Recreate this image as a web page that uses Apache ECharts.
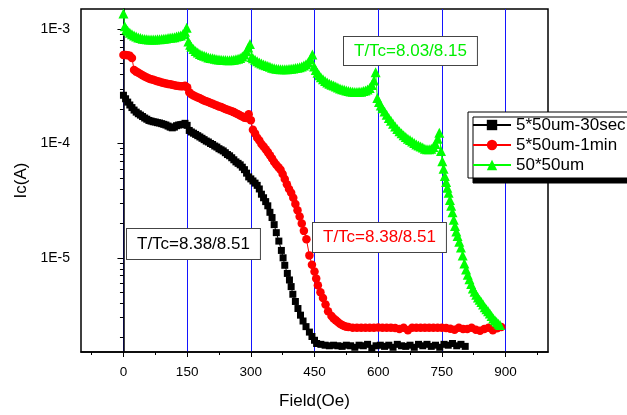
<!DOCTYPE html>
<html>
<head>
<meta charset="utf-8">
<script src="https://cdn.jsdelivr.net/npm/echarts@6/dist/echarts.min.js"></script>
<style>
  html, body { margin: 0; padding: 0; background: #fff; }
  #chart { width: 627px; height: 415px; }
</style>
</head>
<body>
<div id="chart"></div>
<script>
// Axis ticks
const fieldTicks = [0, 150, 300, 450, 600, 750, 900];
const fieldMinorTicks = [-75, 75, 225, 375, 525, 675, 825, 975];
const currentTicks = [1e-5, 1e-4, 1e-3];
const currentMinorTicks = [
  2e-6, 3e-6, 4e-6, 5e-6, 6e-6, 7e-6, 8e-6, 9e-6,
  2e-5, 3e-5, 4e-5, 5e-5, 6e-5, 7e-5, 8e-5, 9e-5,
  2e-4, 3e-4, 4e-4, 5e-4, 6e-4, 7e-4, 8e-4, 9e-4
];
const seriesNames = ['5*50um-30sec', '5*50um-1min', '50*50um'];

// Critical current Ic (A) versus field (Oe)
const ic30sec = [
  [0, 2.64e-4], [5, 2.46e-4], [10, 2.3e-4], [15, 2.17e-4], [20, 2.06e-4], [25, 1.96e-4],
  [30, 1.88e-4], [35, 1.82e-4], [40, 1.77e-4], [45, 1.72e-4], [50, 1.67e-4], [55, 1.63e-4],
  [60, 1.59e-4], [65, 1.57e-4], [70, 1.55e-4], [75, 1.54e-4], [80, 1.52e-4], [85, 1.51e-4],
  [90, 1.49e-4], [95, 1.47e-4], [100, 1.45e-4], [105, 1.42e-4], [110, 1.39e-4], [115, 1.37e-4],
  [120, 1.39e-4], [125, 1.43e-4], [130, 1.45e-4], [135, 1.46e-4], [140, 1.47e-4], [145, 1.5e-4],
  [150, 1.44e-4], [155, 1.3e-4], [160, 1.26e-4], [165, 1.23e-4], [170, 1.2e-4], [175, 1.17e-4],
  [180, 1.14e-4], [185, 1.11e-4], [190, 1.08e-4], [195, 1.05e-4], [200, 1.03e-4], [205, 1.0e-4],
  [210, 9.8e-5], [215, 9.5e-5], [220, 9.3e-5], [225, 9.0e-5], [230, 8.8e-5], [235, 8.6e-5],
  [240, 8.3e-5], [245, 8.0e-5], [250, 7.8e-5], [255, 7.5e-5], [260, 7.2e-5], [265, 6.9e-5],
  [270, 6.7e-5], [275, 6.5e-5], [280, 6.2e-5], [285, 5.9e-5], [290, 5.5e-5], [295, 5.1e-5],
  [300, 4.9e-5], [305, 4.7e-5], [310, 4.5e-5], [315, 4.3e-5], [320, 4.0e-5], [325, 3.6e-5],
  [330, 3.35e-5], [335, 3.1e-5], [340, 2.85e-5], [345, 2.5e-5], [350, 2.25e-5], [355, 1.95e-5],
  [360, 1.66e-5], [366, 1.4e-5], [372, 1.16e-5], [376, 1.0e-5], [380, 8.6e-6], [386, 7.3e-6],
  [391, 6.4e-6], [395, 5.6e-6], [399, 4.8e-6], [405, 4.15e-6], [411, 3.6e-6], [417, 3.15e-6],
  [423, 2.8e-6], [430, 2.5e-6], [438, 2.24e-6], [444, 2.05e-6], [450, 1.9e-6], [455, 1.78e-6],
  [465, 1.75e-6], [475, 1.72e-6], [485, 1.7e-6], [495, 1.72e-6], [505, 1.7e-6], [515, 1.68e-6],
  [525, 1.72e-6], [535, 1.7e-6], [545, 1.65e-6], [555, 1.72e-6], [565, 1.7e-6], [575, 1.75e-6],
  [585, 1.62e-6], [595, 1.7e-6], [605, 1.72e-6], [615, 1.68e-6], [625, 1.72e-6], [635, 1.65e-6],
  [645, 1.75e-6], [655, 1.7e-6], [665, 1.68e-6], [675, 1.72e-6], [685, 1.65e-6], [695, 1.75e-6],
  [705, 1.7e-6], [715, 1.75e-6], [725, 1.68e-6], [735, 1.72e-6], [745, 1.65e-6], [755, 1.75e-6],
  [765, 1.72e-6], [775, 1.78e-6], [785, 1.7e-6], [795, 1.75e-6], [805, 1.68e-6]
];

const ic1min = [
  [0, 5.95e-4], [5, 5.95e-4], [10, 5.9e-4], [15, 5.85e-4], [20, 5.6e-4], [25, 4.4e-4],
  [30, 4.25e-4], [35, 4.15e-4], [40, 4.05e-4], [45, 3.95e-4], [50, 3.86e-4], [55, 3.78e-4],
  [60, 3.7e-4], [65, 3.65e-4], [70, 3.6e-4], [75, 3.55e-4], [80, 3.5e-4], [85, 3.46e-4],
  [90, 3.42e-4], [95, 3.38e-4], [100, 3.35e-4], [105, 3.32e-4], [110, 3.29e-4], [115, 3.26e-4],
  [120, 3.23e-4], [125, 3.2e-4], [130, 3.18e-4], [135, 3.16e-4], [140, 3.16e-4], [145, 3.2e-4],
  [150, 3.1e-4], [155, 2.8e-4], [160, 2.7e-4], [165, 2.63e-4], [170, 2.58e-4], [175, 2.53e-4],
  [180, 2.48e-4], [185, 2.43e-4], [190, 2.38e-4], [195, 2.34e-4], [200, 2.3e-4], [205, 2.26e-4],
  [210, 2.22e-4], [215, 2.18e-4], [220, 2.15e-4], [225, 2.11e-4], [230, 2.08e-4], [235, 2.04e-4],
  [240, 2.0e-4], [245, 1.97e-4], [250, 1.94e-4], [255, 1.91e-4], [260, 1.88e-4], [265, 1.84e-4],
  [270, 1.8e-4], [275, 1.76e-4], [280, 1.72e-4], [285, 1.68e-4], [290, 1.67e-4], [295, 1.8e-4],
  [300, 1.6e-4], [305, 1.32e-4], [310, 1.22e-4], [315, 1.12e-4], [320, 1.06e-4], [325, 9.9e-5],
  [330, 9.4e-5], [335, 8.9e-5], [340, 8.4e-5], [345, 7.9e-5], [350, 7.4e-5], [355, 6.9e-5],
  [360, 6.5e-5], [365, 6.2e-5], [370, 5.9e-5], [375, 5.4e-5], [380, 4.9e-5], [385, 4.4e-5],
  [390, 4.0e-5], [395, 3.7e-5], [400, 3.35e-5], [405, 2.95e-5], [410, 2.6e-5], [415, 2.3e-5],
  [420, 2.0e-5], [425, 1.72e-5], [431, 1.45e-5], [438, 1.05e-5], [444, 8.7e-6], [450, 7.6e-6],
  [454, 6.6e-6], [458, 5.75e-6], [464, 5.0e-6], [470, 4.45e-6], [476, 3.9e-6], [482, 3.4e-6],
  [490, 3.1e-6], [495, 2.95e-6], [500, 2.85e-6], [505, 2.75e-6], [510, 2.65e-6], [515, 2.58e-6],
  [520, 2.53e-6], [525, 2.5e-6], [530, 2.48e-6], [540, 2.45e-6], [550, 2.45e-6], [560, 2.44e-6],
  [570, 2.45e-6], [580, 2.45e-6], [590, 2.44e-6], [600, 2.46e-6], [610, 2.45e-6], [620, 2.44e-6],
  [630, 2.45e-6], [640, 2.43e-6], [650, 2.38e-6], [660, 2.45e-6], [670, 2.32e-6], [680, 2.45e-6],
  [690, 2.45e-6], [700, 2.44e-6], [710, 2.45e-6], [720, 2.45e-6], [730, 2.44e-6], [740, 2.45e-6],
  [750, 2.45e-6], [760, 2.43e-6], [770, 2.4e-6], [780, 2.35e-6], [790, 2.45e-6], [800, 2.38e-6],
  [810, 2.38e-6], [820, 2.45e-6], [830, 2.35e-6], [840, 2.3e-6], [850, 2.38e-6], [860, 2.45e-6],
  [870, 2.32e-6], [880, 2.42e-6], [890, 2.48e-6]
];

const ic50x50 = [
  [0, 1.37e-3], [3, 1.06e-3], [7, 1.0e-3], [10, 9.7e-4], [15, 9.3e-4], [20, 9.0e-4],
  [25, 8.8e-4], [30, 8.6e-4], [35, 8.45e-4], [40, 8.35e-4], [45, 8.25e-4], [50, 8.2e-4],
  [55, 8.15e-4], [60, 8.1e-4], [65, 8.1e-4], [70, 8.1e-4], [75, 8.1e-4], [80, 8.15e-4],
  [85, 8.15e-4], [90, 8.2e-4], [95, 8.25e-4], [100, 8.3e-4], [105, 8.35e-4], [110, 8.4e-4],
  [115, 8.45e-4], [120, 8.5e-4], [125, 8.6e-4], [130, 8.7e-4], [135, 8.8e-4], [140, 9.0e-4],
  [145, 9.5e-4], [149, 1.03e-3], [153, 7.8e-4], [157, 7.3e-4], [160, 7.0e-4], [165, 6.7e-4],
  [170, 6.45e-4], [175, 6.25e-4], [180, 6.05e-4], [185, 5.95e-4], [190, 5.85e-4], [195, 5.75e-4],
  [200, 5.65e-4], [205, 5.6e-4], [210, 5.55e-4], [215, 5.5e-4], [220, 5.45e-4], [225, 5.42e-4],
  [230, 5.4e-4], [235, 5.38e-4], [240, 5.36e-4], [245, 5.35e-4], [250, 5.35e-4], [255, 5.37e-4],
  [260, 5.4e-4], [265, 5.45e-4], [270, 5.5e-4], [275, 5.6e-4], [280, 5.75e-4], [285, 6.0e-4],
  [290, 6.4e-4], [294, 6.9e-4], [298, 7.4e-4], [302, 5.7e-4], [305, 5.55e-4], [310, 5.4e-4],
  [315, 5.25e-4], [320, 5.1e-4], [325, 5.0e-4], [330, 4.9e-4], [335, 4.82e-4], [340, 4.75e-4],
  [345, 4.68e-4], [350, 4.6e-4], [355, 4.55e-4], [360, 4.5e-4], [365, 4.48e-4], [370, 4.46e-4],
  [375, 4.45e-4], [380, 4.45e-4], [385, 4.46e-4], [390, 4.48e-4], [395, 4.5e-4], [400, 4.53e-4],
  [405, 4.56e-4], [410, 4.6e-4], [415, 4.65e-4], [420, 4.72e-4], [425, 4.8e-4], [430, 4.92e-4],
  [435, 5.1e-4], [440, 5.45e-4], [445, 6.0e-4], [449, 4.7e-4], [453, 4.4e-4], [457, 4.15e-4],
  [461, 3.95e-4], [465, 3.8e-4], [470, 3.65e-4], [475, 3.52e-4], [480, 3.42e-4], [485, 3.33e-4],
  [490, 3.27e-4], [495, 3.21e-4], [500, 3.15e-4], [505, 3.09e-4], [510, 3.03e-4], [515, 2.98e-4],
  [520, 2.95e-4], [525, 2.91e-4], [530, 2.88e-4], [535, 2.85e-4], [540, 2.83e-4], [545, 2.82e-4],
  [550, 2.82e-4], [555, 2.83e-4], [560, 2.84e-4], [565, 2.87e-4], [570, 2.9e-4], [575, 2.96e-4],
  [580, 3.05e-4], [585, 3.25e-4], [590, 3.55e-4], [594, 4.2e-4], [598, 2.5e-4], [602, 2.3e-4],
  [606, 2.15e-4], [610, 2.03e-4], [615, 1.9e-4], [620, 1.78e-4], [625, 1.67e-4], [630, 1.58e-4],
  [635, 1.49e-4], [640, 1.41e-4], [645, 1.34e-4], [650, 1.28e-4], [655, 1.23e-4], [660, 1.18e-4],
  [665, 1.14e-4], [670, 1.1e-4], [675, 1.07e-4], [680, 1.04e-4], [685, 1.01e-4], [690, 9.8e-5],
  [695, 9.6e-5], [700, 9.4e-5], [705, 9.2e-5], [710, 9.0e-5], [715, 8.9e-5], [720, 8.9e-5],
  [725, 9.0e-5], [730, 9.3e-5], [735, 9.9e-5], [740, 1.1e-4], [744, 1.24e-4], [748, 8.6e-5],
  [751, 7.0e-5], [754, 6.0e-5], [757, 5.2e-5], [760, 4.6e-5], [763, 4.1e-5], [766, 3.7e-5],
  [769, 3.2e-5], [772, 2.85e-5], [775, 2.5e-5], [778, 2.15e-5], [781, 1.9e-5], [784, 1.7e-5],
  [787, 1.55e-5], [791, 1.38e-5], [795, 1.23e-5], [799, 1.05e-5], [803, 8.9e-6], [807, 7.9e-6],
  [811, 7.1e-6], [815, 6.5e-6], [819, 5.9e-6], [823, 5.4e-6], [827, 5.05e-6], [831, 4.75e-6],
  [835, 4.5e-6], [839, 4.3e-6], [843, 4.1e-6], [847, 3.9e-6], [851, 3.7e-6], [855, 3.55e-6],
  [859, 3.4e-6], [863, 3.25e-6], [867, 3.1e-6], [871, 2.95e-6], [875, 2.85e-6], [879, 2.75e-6],
  [883, 2.65e-6], [887, 2.58e-6]
];

const FONT = '"Liberation Sans", Arial, sans-serif';
const GRID_BLUE = '#1414ff';
const chart = echarts.init(document.getElementById('chart'), null, { renderer: 'canvas' });

const xBase = { type: 'value', min: -100, max: 1000, position: 'bottom' };
const yBase = {
  type: 'log', logBase: 10, min: 1.5e-6, max: 1.5e-3, position: 'left',
  splitLine: { show: false }, minorTick: { show: false }
};

chart.setOption({
  animation: false,
  backgroundColor: '#fff',
  grid: {
    left: 81, right: 79, top: 9, bottom: 57,
    show: true, borderColor: '#000', borderWidth: 1.5, backgroundColor: 'transparent'
  },
  xAxis: [
    Object.assign({}, xBase, {
      name: 'Field(Oe)', nameLocation: 'middle', nameGap: 41,
      nameTextStyle: { fontFamily: FONT, fontSize: 17, color: '#000' },
      axisLine: { show: true, lineStyle: { color: '#000', width: 1.5 } },
      axisTick: { show: true, customValues: fieldTicks, length: 5, lineStyle: { color: '#000', width: 1 } },
      axisLabel: { show: true, customValues: fieldTicks, margin: 13, fontFamily: FONT, fontSize: 13.5, color: '#000' },
      // vertical guide lines at the labelled fields
      splitLine: { show: true, lineStyle: { color: GRID_BLUE, width: 1, type: 'solid' } }
    }),
    Object.assign({}, xBase, {
      axisLine: { show: false },
      axisTick: { show: true, customValues: fieldMinorTicks, length: 3, lineStyle: { color: '#000', width: 1 } },
      axisLabel: { show: false },
      splitLine: { show: false }
    })
  ],
  yAxis: [
    Object.assign({}, yBase, {
      name: 'Ic(A)', nameLocation: 'middle', nameGap: 43,
      nameTextStyle: { fontFamily: FONT, fontSize: 17, color: '#000' },
      axisLine: { show: true, lineStyle: { color: '#000', width: 1.5 } },
      axisTick: { show: true, customValues: currentTicks, length: 6, lineStyle: { color: '#000', width: 1 } },
      axisLabel: {
        show: true, customValues: currentTicks, margin: 11,
        fontFamily: FONT, fontSize: 14, color: '#000',
        formatter: v => '1E' + Math.round(Math.log10(v))
      }
    }),
    Object.assign({}, yBase, {
      axisLine: { show: false },
      axisTick: { show: true, customValues: currentMinorTicks, length: 3.5, lineStyle: { color: '#000', width: 1 } },
      axisLabel: { show: false }
    })
  ],
  legend: {
    orient: 'vertical', left: 468, top: 112,
    data: seriesNames,
    itemWidth: 38, itemHeight: 13, itemGap: 2,
    padding: [4, 8, 4, 4],
    backgroundColor: '#fff', borderColor: '#000', borderWidth: 1, borderRadius: 0,
    shadowColor: '#000', shadowBlur: 0, shadowOffsetX: 5, shadowOffsetY: 5,
    textStyle: { fontFamily: FONT, fontSize: 17, color: '#000', lineHeight: 18 }
  },
  graphic: [
    {
      type: 'text', left: 343, top: 36, z: 100,
      style: {
        text: 'T/Tc=8.03/8.15', fill: '#00ee00', font: '17px ' + FONT,
        backgroundColor: '#fff', borderColor: '#444', borderWidth: 1,
        padding: [6, 10, 5, 10]
      }
    },
    {
      type: 'text', left: 126, top: 228, z: 100,
      style: {
        text: 'T/Tc=8.38/8.51', fill: '#000', font: '17px ' + FONT,
        backgroundColor: '#fff', borderColor: '#444', borderWidth: 1,
        padding: [7, 10, 6, 10]
      }
    },
    {
      type: 'text', left: 312, top: 222, z: 100,
      style: {
        text: 'T/Tc=8.38/8.51', fill: '#ff0000', font: '17px ' + FONT,
        backgroundColor: '#fff', borderColor: '#444', borderWidth: 1,
        padding: [6, 10, 6, 10]
      }
    }
  ],
  series: [
    {
      name: seriesNames[0], type: 'line', data: ic30sec,
      symbol: 'rect', symbolSize: 7, showAllSymbol: true,
      itemStyle: { color: '#000' }, lineStyle: { color: '#000', width: 1 }
    },
    {
      name: seriesNames[1], type: 'line', data: ic1min,
      symbol: 'circle', symbolSize: 8.5, showAllSymbol: true,
      itemStyle: { color: '#ff0000' }, lineStyle: { color: '#ff0000', width: 1 }
    },
    {
      name: seriesNames[2], type: 'line', data: ic50x50,
      symbol: 'triangle', symbolSize: 10, showAllSymbol: true,
      itemStyle: { color: '#00ff00' }, lineStyle: { color: '#00ff00', width: 1 }
    }
  ]
});
</script>
</body>
</html>
